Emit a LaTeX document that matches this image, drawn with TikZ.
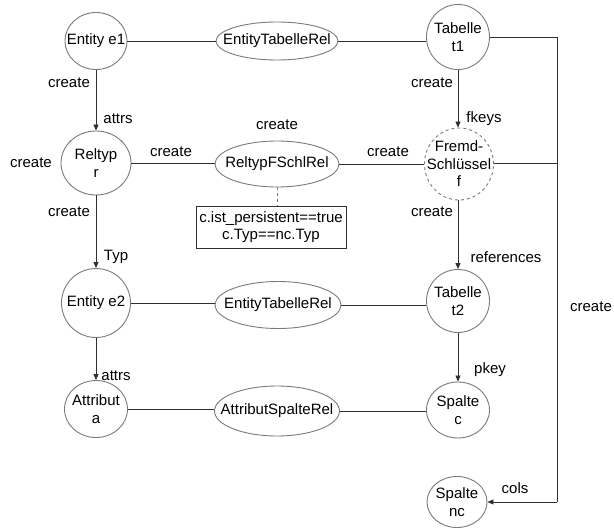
\documentclass[tikz,border=0pt]{standalone}
\usepackage{fontspec}
\setmainfont{Liberation Sans}
\usetikzlibrary{shapes.geometric,arrows.meta}
\definecolor{rim}{HTML}{7A7A7A}
\definecolor{wire}{HTML}{303030}
\tikzset{
  base/.style={font=\fontsize{15}{17.5}\selectfont, text=black},
  txt/.style={base, inner sep=0pt, align=center},
  shp/.style={ellipse, draw=rim, line width=0.9pt, inner sep=0pt},
  cond/.style={base, draw=wire, line width=0.8pt, rectangle, align=center, inner sep=0pt},
  lbl/.style={base, inner sep=0pt},
  link/.style={draw=wire, line width=0.8pt},
  arr/.style={link, -{Triangle[length=6pt,width=5pt]}},
}
\begin{document}
\begin{tikzpicture}[x=1pt,y=-1pt]
\useasboundingbox (0,0) rectangle (614,530);

% object nodes (shape sized independently of the text)
\node[shp, minimum width=62pt, minimum height=57pt, label={[txt]center:Entity e1}] (e1) at (96,41) {};
\node[shp, minimum width=63pt, minimum height=65pt, label={[txt]center:Tabelle\\t1}] (t1) at (458,37) {};
\node[shp, minimum width=70pt, minimum height=64pt, label={[txt]center:Reltyp\\r}] (r) at (96,163) {};
\node[shp, minimum width=69pt, minimum height=72pt, dashed, label={[txt]center:Fremd-\\Schlüssel\\f}] (f) at (459,164) {};
\node[shp, minimum width=69pt, minimum height=69pt, label={[txt]center:Entity e2}] (e2) at (96,303) {};
\node[shp, minimum width=63pt, minimum height=63pt, label={[txt]center:Tabelle\\t2}] (t2) at (458,301) {};
\node[shp, minimum width=63pt, minimum height=57pt, label={[txt]center:Attribut\\a}] (a) at (96,409) {};
\node[shp, minimum width=63pt, minimum height=56pt, label={[txt]center:Spalte\\c}] (c) at (458,410) {};
\node[shp, minimum width=60pt, minimum height=51pt, label={[txt]center:Spalte\\nc}] (nc) at (457,502) {};

% relation nodes
\node[shp, minimum width=122pt, minimum height=38pt, label={[txt]center:EntityTabelleRel}] (rel1) at (277,41) {};
\node[shp, minimum width=124pt, minimum height=46pt, label={[txt]center:ReltypFSchlRel}] (rel2) at (277,164) {};
\node[shp, minimum width=126pt, minimum height=47pt, label={[txt]center:EntityTabelleRel}] (rel3) at (278,305) {};
\node[shp, minimum width=125pt, minimum height=50pt, label={[txt]center:AttributSpalteRel}] (rel4) at (277,411) {};

% condition box
\node[cond, minimum width=150pt, minimum height=42pt] (cnd) at (271,227)
  {c.ist\_persistent==true\\c.Typ==nc.Typ};

% undirected links
\draw[link] (e1.east) -- (e1.east -| rel1.west);
\draw[link] (rel1.east) -- (t1.west |- rel1.east);
\draw[link] (r.east) -- (r.east -| rel2.west);
\draw[link] (rel2.east) -- (f.west |- rel2.east);
\draw[link] (e2.east) -- (e2.east -| rel3.west);
\draw[link] (rel3.east) -- (t2.west |- rel3.east);
\draw[link] (a.east) -- (a.east -| rel4.west);
\draw[link] (rel4.east) -- (c.west |- rel4.east);
\draw[link, draw=rim, dashed] (rel2.south) -- (cnd.north -| rel2.south);

% directed links
\draw[arr] (e1.south) -- (r.north);
\draw[arr] (r.south) -- (e2.north);
\draw[arr] (e2.south) -- (a.north);
\draw[arr] (t1.south) -- (t1.south |- f.north);
\draw[arr] (f.south -| t1.south) -- (t2.north);
\draw[arr] (t2.south) -- (c.north);

% creation bus on the right
\coordinate (bt) at (557,37);
\coordinate (bb) at (557,502);
\coordinate (bf) at (557,163);
\draw[link] (t1.east) -- (bt) -- (bb);
\draw[arr] (bb) -- (nc.east);
\draw[link] (f.east |- bf) -- (bf);

% edge labels
\node[lbl] (l1)  at (69,83)   {create};
\node[lbl] (l2)  at (118,119) {attrs};
\node[lbl] (l3)  at (31,163)  {create};
\node[lbl] (l4)  at (171,152) {create};
\node[lbl] (l5)  at (277,125) {create};
\node[lbl] (l6)  at (388,152) {create};
\node[lbl] (l7)  at (69,212)  {create};
\node[lbl] (l8)  at (116,257) {Typ};
\node[lbl] (l9)  at (432,83)  {create};
\node[lbl] (l10) at (484,119) {fkeys};
\node[lbl] (l11) at (432,212) {create};
\node[lbl] (l12) at (506,257) {references};
\node[lbl] (l13) at (116,376) {attrs};
\node[lbl] (l14) at (490,370) {pkey};
\node[lbl] (l15) at (591,307) {create};
\node[lbl] (l16) at (515,488) {cols};
\end{tikzpicture}
\end{document}
